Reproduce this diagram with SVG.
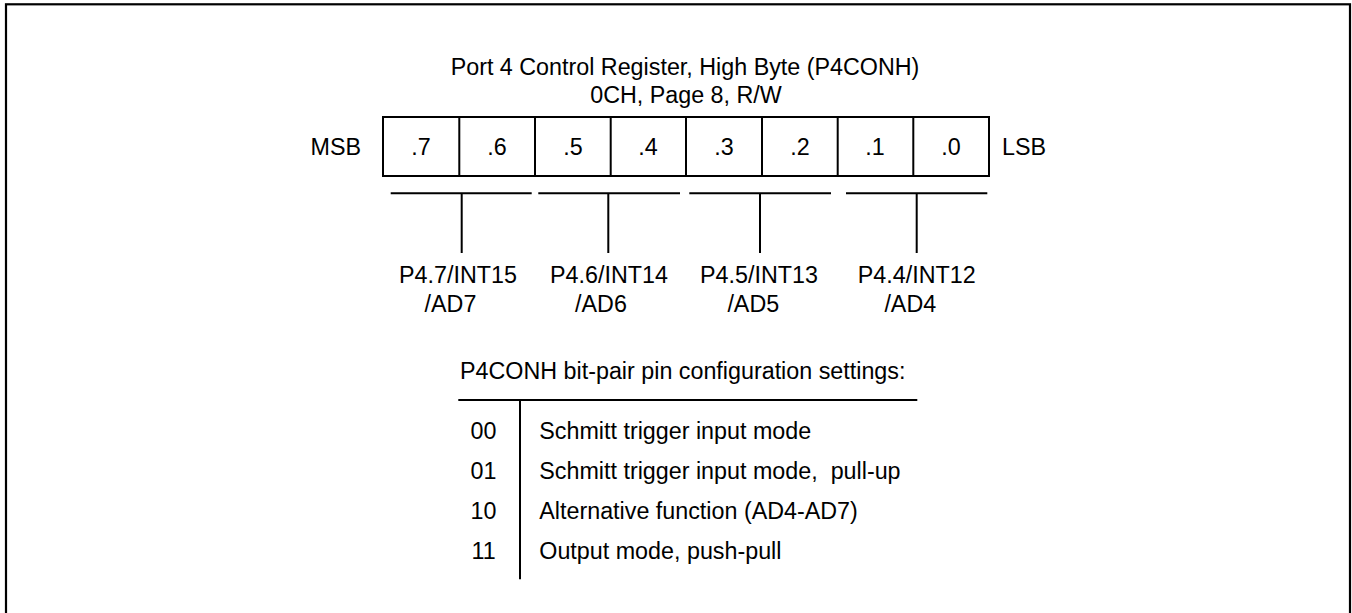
<svg xmlns="http://www.w3.org/2000/svg" width="1352" height="613" viewBox="0 0 1352 613">
<style>
text{font-family:"Liberation Sans",Arial,sans-serif;font-size:23.3px;fill:#000}
.m{text-anchor:middle}
.e{text-anchor:end}
.ln{stroke:#000;stroke-width:2;fill:none}
</style>
<rect x="0" y="0" width="1352" height="613" fill="#fff"/>
<rect id="frame" x="6" y="4.3" width="1344" height="630" fill="none" stroke="#000" stroke-width="2.2"/>
<g id="title">
<text class="m" x="685" y="75">Port 4 Control Register, High Byte (P4CONH)</text>
<text class="m" x="686" y="103.3">0CH, Page 8, R/W</text>
</g>
<g id="register">
<rect class="ln" x="383" y="117" width="606" height="59"/>
<path class="ln" d="M459.3 117V176M535 117V176M610.7 117V176M686 117V176M762 117V176M837.7 117V176M913.3 117V176"/>
<text class="m" x="421" y="155">.7</text>
<text class="m" x="497" y="155">.6</text>
<text class="m" x="573" y="155">.5</text>
<text class="m" x="648" y="155">.4</text>
<text class="m" x="724" y="155">.3</text>
<text class="m" x="800" y="155">.2</text>
<text class="m" x="875" y="155">.1</text>
<text class="m" x="951" y="155">.0</text>
</g>
<g id="msb"><text class="e" x="361" y="155">MSB</text></g>
<g id="lsb"><text x="1002" y="155">LSB</text></g>
<g id="connectors">
<path class="ln" d="M390.7 193.3H531.7M461.7 193.3V253"/>
<path class="ln" d="M538.3 193.3H680M608.3 193.3V253"/>
<path class="ln" d="M689.3 193.3H831M760 193.3V253"/>
<path class="ln" d="M846 193.3H987.3M916.7 193.3V253"/>
</g>
<g id="pin7">
<text class="m" x="458" y="283.3">P4.7/INT15</text>
<text class="m" x="450.5" y="311.7">/AD7</text>
</g>
<g id="pin6">
<text class="m" x="609" y="283.3">P4.6/INT14</text>
<text class="m" x="601" y="311.7">/AD6</text>
</g>
<g id="pin5">
<text class="m" x="759" y="283.3">P4.5/INT13</text>
<text class="m" x="753.3" y="311.7">/AD5</text>
</g>
<g id="pin4">
<text class="m" x="916.7" y="283.3">P4.4/INT12</text>
<text class="m" x="910.3" y="311.7">/AD4</text>
</g>
<g id="settings">
<text x="460" y="379.3">P4CONH bit-pair pin configuration settings:</text>
<path class="ln" d="M458.3 400H917.3M520 400V579.3"/>
<text class="m" x="483.5" y="439">00</text>
<text class="m" x="483.5" y="478.5">01</text>
<text class="m" x="483.5" y="519">10</text>
<text class="m" x="483.5" y="559">11</text>
<text x="539.3" y="439">Schmitt trigger input mode</text>
<text x="539.3" y="478.5" xml:space="preserve">Schmitt trigger input mode,  pull-up</text>
<text x="539.3" y="519">Alternative function (AD4-AD7)</text>
<text x="539.3" y="559">Output mode, push-pull</text>
</g>
</svg>
